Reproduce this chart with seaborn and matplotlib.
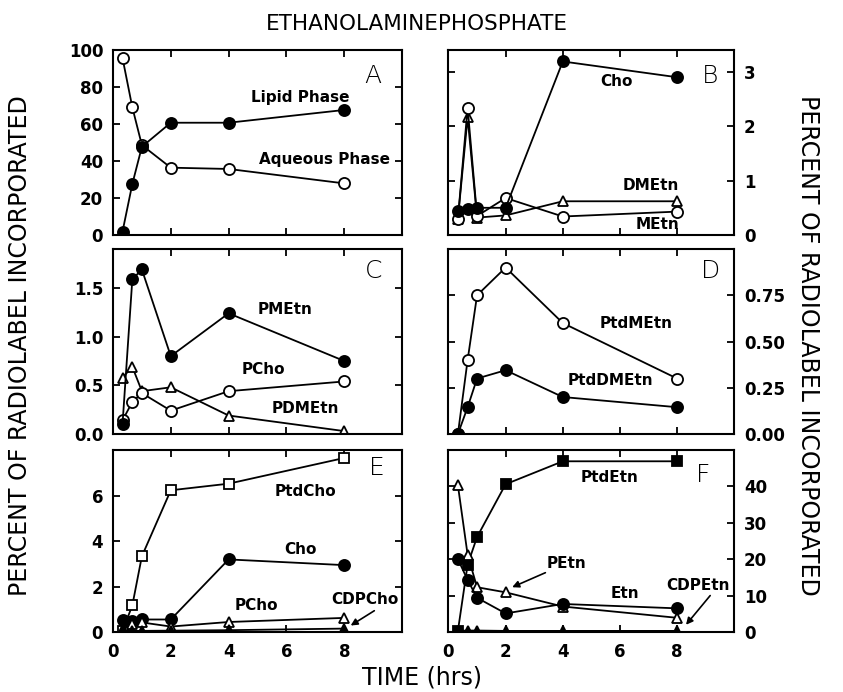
import matplotlib
matplotlib.use("Agg")
import matplotlib.pyplot as plt
import seaborn as sns
import pandas as pd

# sampling times (hrs), shared by every panel
times = [0.33, 0.67, 1, 2, 4, 8]

# panel A
lipid_phase = [1.8, 27.6, 47.7, 60.7, 60.7, 67.6]
aqueous_phase = [95.7, 69.0, 48.6, 36.4, 35.7, 27.9]
# panel B
b_cho = [0.45, 0.47, 0.50, 0.50, 3.19, 2.90]
b_dmetn = [0.30, 2.16, 0.32, 0.36, 0.62, 0.62]
b_metn = [0.30, 2.34, 0.35, 0.68, 0.34, 0.43]
# panel C
c_pmetn = [0.10, 1.59, 1.69, 0.80, 1.24, 0.75]
c_pcho = [0.14, 0.33, 0.42, 0.24, 0.44, 0.54]
c_pdmetn = [0.58, 0.69, 0.44, 0.48, 0.19, 0.03]
# panel D
d_ptdmetn = [0.0, 0.40, 0.75, 0.90, 0.60, 0.30]
d_ptddmetn = [0.0, 0.145, 0.30, 0.345, 0.20, 0.145]
# panel E
e_ptdcho = [0.05, 1.17, 3.33, 6.23, 6.52, 7.65]
e_cho = [0.51, 0.50, 0.55, 0.55, 3.19, 2.94]
e_pcho = [0.14, 0.33, 0.42, 0.24, 0.44, 0.62]
e_cdpcho = [0.05, 0.05, 0.05, 0.06, 0.08, 0.15]
# panel F
f_ptdetn = [0.3, 18.5, 26.1, 40.6, 46.9, 46.9]
f_petn = [40.3, 21.2, 12.3, 10.9, 7.0, 3.9]
f_etn = [20.0, 14.3, 9.4, 5.1, 7.7, 6.5]
f_cdpetn = [0.3, 0.4, 0.4, 0.3, 0.3, 0.3]

sns.set_style("white")
plt.rcParams['font.family'] = ['DejaVu Sans']
plt.rcParams['text.color'] = 'black'
plt.rcParams['axes.labelcolor'] = 'black'
plt.rcParams['xtick.color'] = 'black'
plt.rcParams['ytick.color'] = 'black'

fig = plt.figure(figsize=(8.43, 6.92), dpi=100)

LX, LW = 0.134, 0.343
RX, RW = 0.532, 0.339
rows = [(0.6604, 0.2673), (0.3728, 0.2673), (0.0867, 0.263)]

# marker styles: (marker, filled)
STY = {
    'oc': ('o', False), 'fc': ('o', True),
    'ot': ('^', False), 'ft': ('^', True),
    'os': ('s', False), 'fs': ('s', True),
}


def series(ax, y, sty):
    m, filled = STY[sty]
    df = pd.DataFrame({'t': times, 'v': y})
    sns.lineplot(data=df, x='t', y='v', ax=ax, color='black', lw=1.3,
                 marker=m, markersize=8 if m == 'o' else 7.5,
                 markerfacecolor='black' if filled else 'white',
                 markeredgecolor='black', markeredgewidth=1.3)


def frame(ax, ymax, yticks, ylabels, side, bottom_labels):
    ax.set_xlim(0, 10)
    ax.set_ylim(0, ymax)
    ax.set_xticks([0, 2, 4, 6, 8])
    ax.set_yticks(yticks)
    ax.set_yticklabels(ylabels)
    ax.set_xlabel('')
    ax.set_ylabel('')
    for s in ax.spines.values():
        s.set_linewidth(1.5)
        s.set_color('black')
    ax.tick_params(direction='in', length=5, width=1.3, top=True, bottom=True,
                   left=True, right=True, labelsize=12, colors='black',
                   labelleft=(side == 'left'), labelright=(side == 'right'),
                   labelbottom=bottom_labels)
    ax.tick_params(axis='y', pad=7)
    ax.tick_params(axis='x', pad=8)
    for lab in ax.get_xticklabels() + ax.get_yticklabels():
        lab.set_fontweight('bold')


def tag(ax, x, y, s):
    ax.text(x, y, s, ha='center', va='center', fontsize=11, fontweight='bold')


def letter(ax, x, y, s):
    ax.text(x, y, s, ha='center', va='center', fontsize=18, fontweight='light')


# A
axA = fig.add_axes([LX, rows[0][0], LW, rows[0][1]])
series(axA, aqueous_phase, 'oc')
series(axA, lipid_phase, 'fc')
frame(axA, 100, [0, 20, 40, 60, 80, 100], ['0', '20', '40', '60', '80', '100'], 'left', False)
tag(axA, 6.47, 74.6, 'Lipid Phase')
tag(axA, 7.3, 41, 'Aqueous Phase')
letter(axA, 9.0, 86, 'A')

# B
axB = fig.add_axes([RX, rows[0][0], RW, rows[0][1]])
series(axB, b_dmetn, 'ot')
series(axB, b_metn, 'oc')
series(axB, b_cho, 'fc')
frame(axB, 3.4, [0, 1, 2, 3], ['0', '1', '2', '3'], 'right', False)
tag(axB, 5.86, 2.82, 'Cho')
tag(axB, 7.08, 0.91, 'DMEtn')
tag(axB, 7.3, 0.2, 'MEtn')
letter(axB, 9.17, 2.93, 'B')

# C
axC = fig.add_axes([LX, rows[1][0], LW, rows[1][1]])
series(axC, c_pdmetn, 'ot')
series(axC, c_pcho, 'oc')
series(axC, c_pmetn, 'fc')
frame(axC, 1.9, [0, 0.5, 1.0, 1.5], ['0.0', '0.5', '1.0', '1.5'], 'left', False)
tag(axC, 5.95, 1.28, 'PMEtn')
tag(axC, 5.19, 0.66, 'PCho')
tag(axC, 6.64, 0.26, 'PDMEtn')
letter(axC, 9.0, 1.67, 'C')

# D
axD = fig.add_axes([RX, rows[1][0], RW, rows[1][1]])
series(axD, d_ptdmetn, 'oc')
series(axD, d_ptddmetn, 'fc')
frame(axD, 1.0, [0, 0.25, 0.5, 0.75], ['0.00', '0.25', '0.50', '0.75'], 'right', False)
tag(axD, 6.58, 0.60, 'PtdMEtn')
tag(axD, 5.65, 0.29, 'PtdDMEtn')
letter(axD, 9.17, 0.88, 'D')

# E
axE = fig.add_axes([LX, rows[2][0], LW, rows[2][1]])
series(axE, e_ptdcho, 'os')
series(axE, e_cho, 'fc')
series(axE, e_pcho, 'ot')
series(axE, e_cdpcho, 'ft')
frame(axE, 8, [0, 2, 4, 6], ['0', '2', '4', '6'], 'left', True)
tag(axE, 6.64, 6.16, 'PtdCho')
tag(axE, 6.47, 3.63, 'Cho')
tag(axE, 4.97, 1.17, 'PCho')
tag(axE, 8.72, 1.43, 'CDPCho')
axE.annotate('', xy=(8.14, 0.22), xytext=(9.12, 1.0),
             arrowprops=dict(arrowstyle='-|>', color='black', lw=1.2))
letter(axE, 9.12, 7.2, 'E')

# F
axF = fig.add_axes([RX, rows[2][0], RW, rows[2][1]])
series(axF, f_ptdetn, 'fs')
series(axF, f_petn, 'ot')
series(axF, f_etn, 'fc')
series(axF, f_cdpetn, 'ft')
frame(axF, 50, [0, 10, 20, 30, 40], ['0', '10', '20', '30', '40'], 'right', True)
tag(axF, 5.65, 42.5, 'PtdEtn')
tag(axF, 4.12, 18.9, 'PEtn')
axF.annotate('', xy=(2.14, 12.0), xytext=(3.48, 16.6),
             arrowprops=dict(arrowstyle='-|>', color='black', lw=1.2))
tag(axF, 6.17, 10.6, 'Etn')
tag(axF, 8.72, 12.9, 'CDPEtn')
axF.annotate('', xy=(8.25, 1.4), xytext=(9.22, 10.6),
             arrowprops=dict(arrowstyle='-|>', color='black', lw=1.2))
letter(axF, 8.93, 43, 'F')

fig.text(0.495, 0.965, 'ETHANOLAMINEPHOSPHATE', ha='center', va='center', fontsize=15.5)
fig.text(0.5, 0.021, 'TIME (hrs)', ha='center', va='center', fontsize=17)
fig.text(0.024, 0.501, 'PERCENT OF RADIOLABEL INCORPORATED', rotation=90,
         ha='center', va='center', fontsize=17)
fig.text(0.958, 0.501, 'PERCENT OF RADIOLABEL INCORPORATED', rotation=-90,
         ha='center', va='center', fontsize=17)

fig.savefig('out.png', dpi=100)
